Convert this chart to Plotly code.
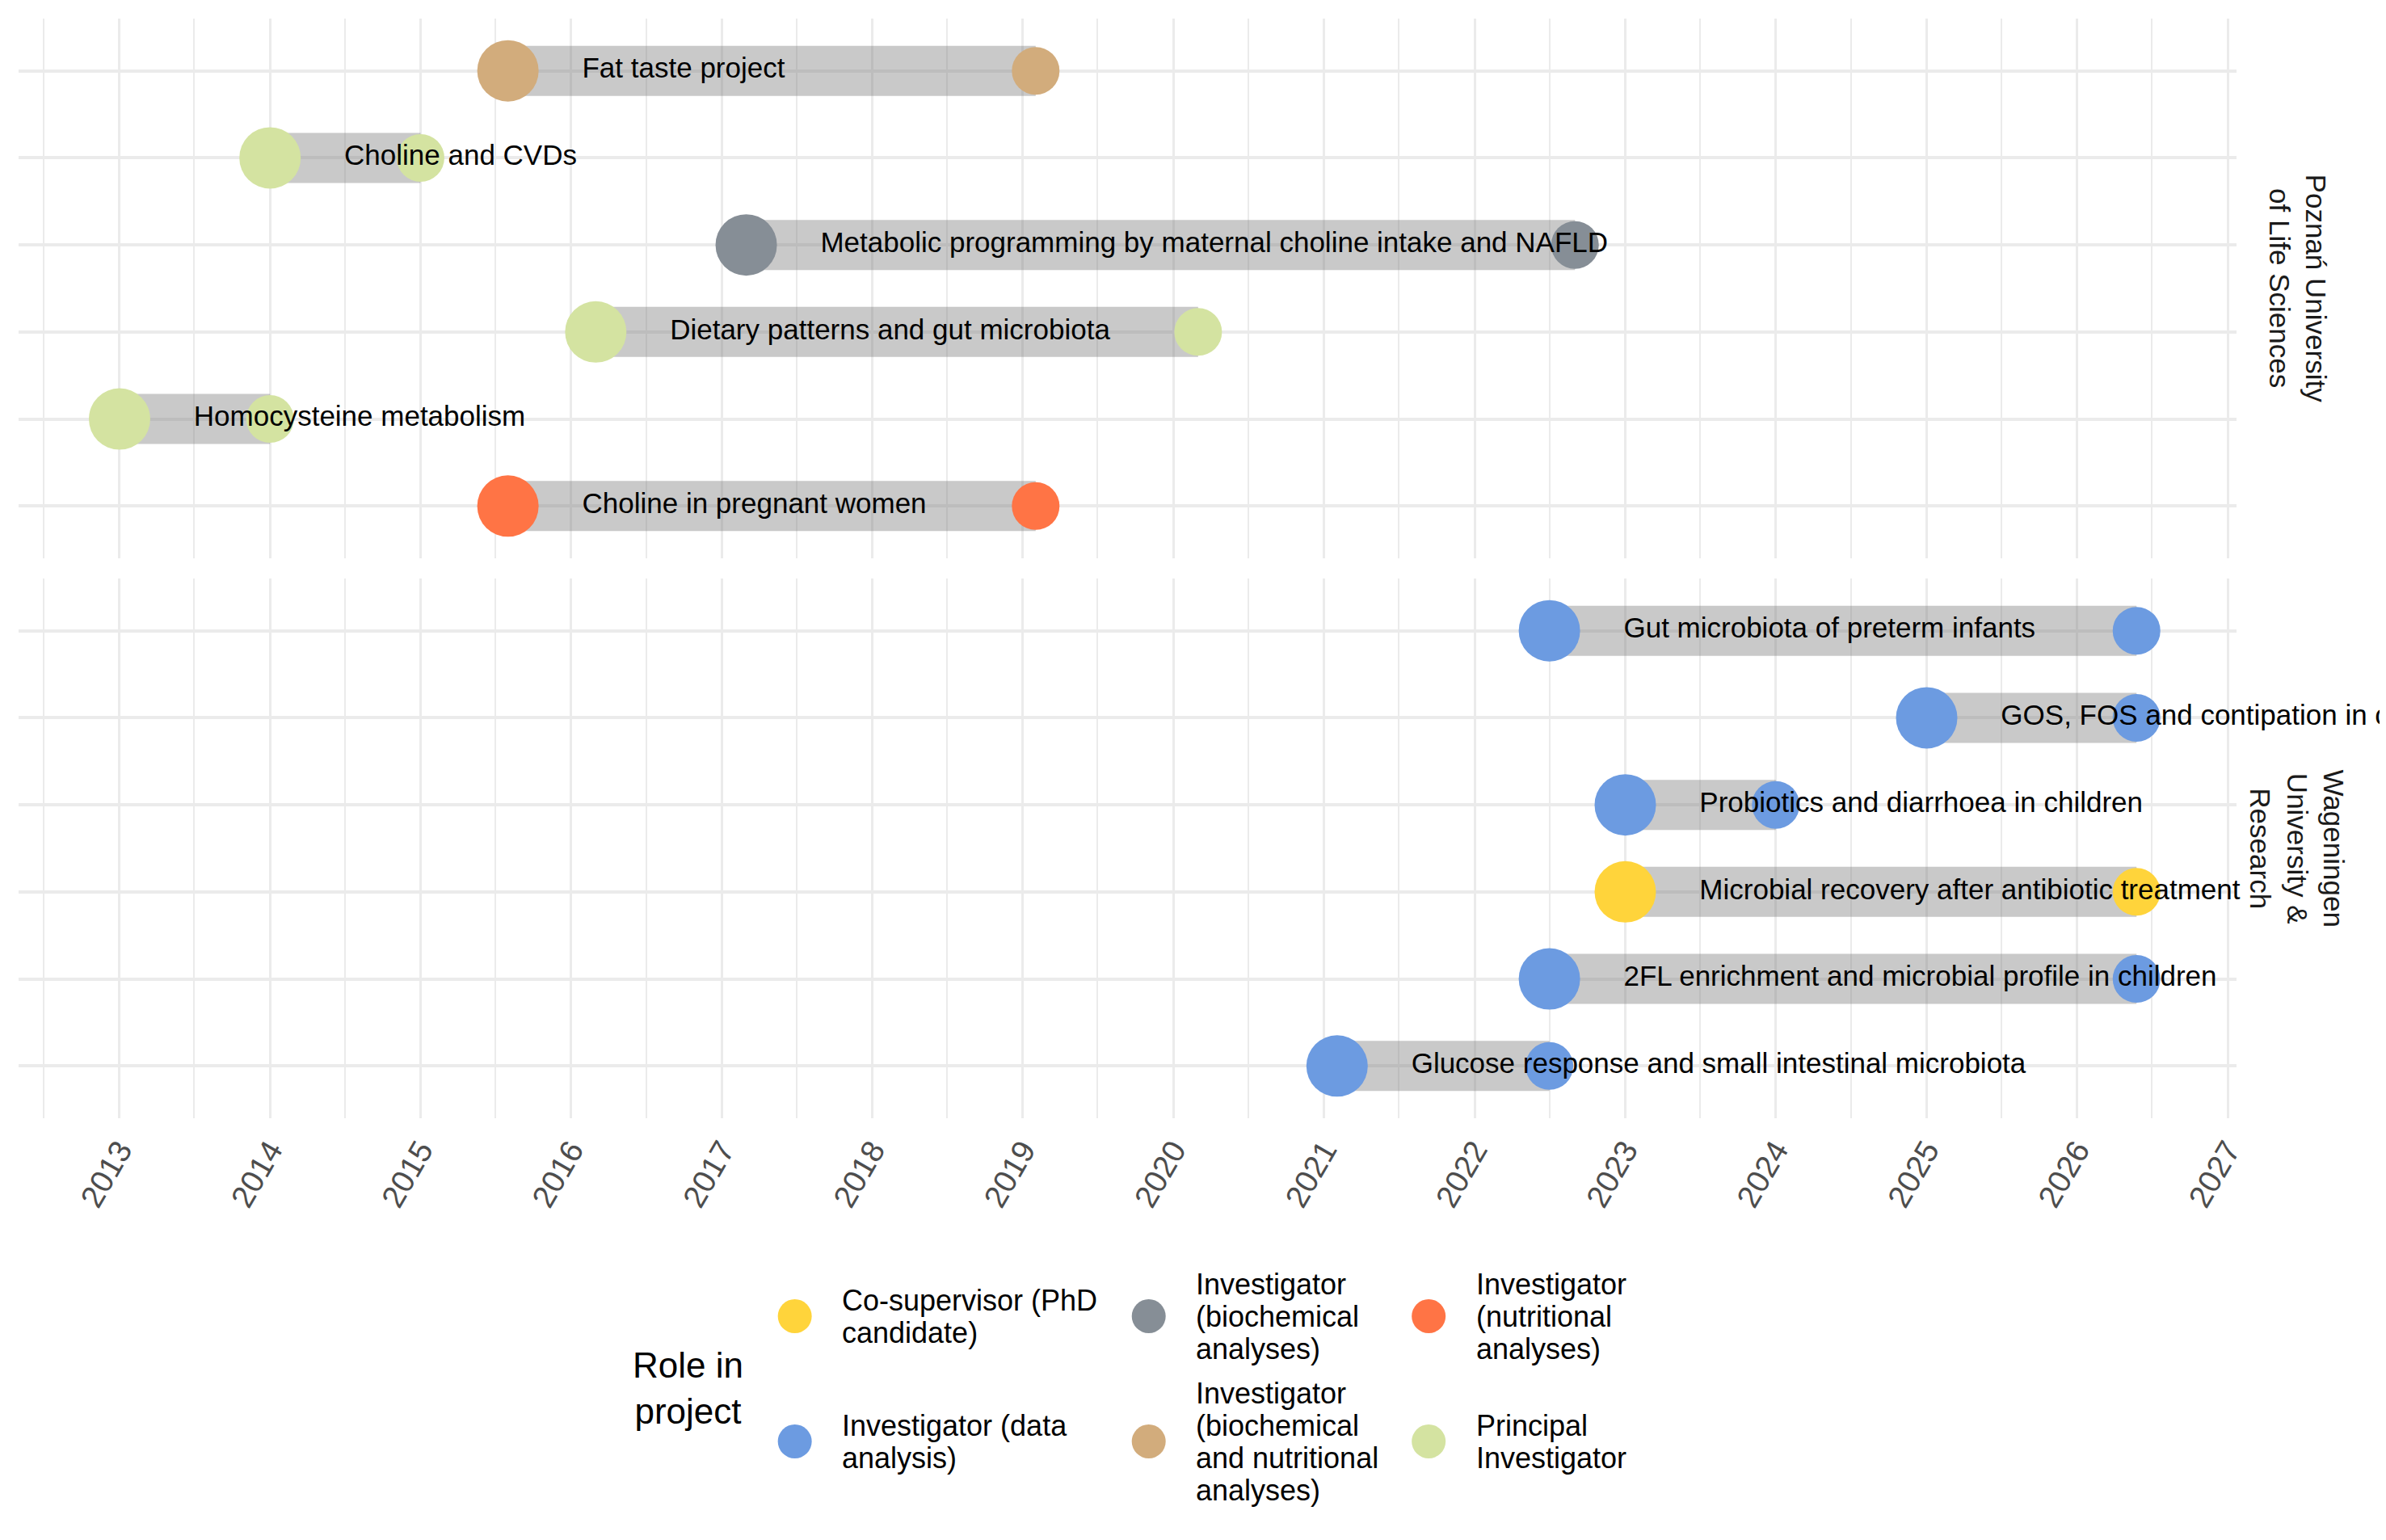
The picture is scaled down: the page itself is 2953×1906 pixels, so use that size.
import pandas as pd
import plotly.graph_objects as go

# the page body keeps its default 8px margin, so the figure is made 16px smaller
# than the window and all positions below are given in window pixels
WIN_W, WIN_H = 2953, 1906
OFF = 8
W, H = WIN_W - 2 * OFF, WIN_H - 2 * OFF
FONT = "Liberation Sans, Arial, sans-serif"

# --- data -------------------------------------------------------------
panels = ["Poznań University<br>of Life Sciences", "Wageningen<br>University &<br>Research"]

projects = [
    "Fat taste project",
    "Choline and CVDs",
    "Metabolic programming by maternal choline intake and NAFLD",
    "Dietary patterns and gut microbiota",
    "Homocysteine metabolism",
    "Choline in pregnant women",
    "Gut microbiota of preterm infants",
    "GOS, FOS and contipation in children",
    "Probiotics and diarrhoea in children",
    "Microbial recovery after antibiotic treatment",
    "2FL enrichment and microbial profile in children",
    "Glucose response and small intestinal microbiota",
]
institution = [panels[0]] * 6 + [panels[1]] * 6

start_dates = ["2015-08-01", "2014-01-01", "2017-03-01", "2016-03-01", "2013-01-01", "2015-08-01",
               "2022-07-01", "2025-01-01", "2023-01-01", "2023-01-01", "2022-07-01", "2021-02-01"]
end_dates = ["2019-02-01", "2015-01-01", "2022-09-01", "2020-03-01", "2014-01-01", "2019-02-01",
             "2026-05-25", "2026-05-25", "2024-01-01", "2026-05-25", "2026-05-25", "2022-07-01"]

roles = [
    "Investigator (biochemical and nutritional analyses)",
    "Principal Investigator",
    "Investigator (biochemical analyses)",
    "Principal Investigator",
    "Principal Investigator",
    "Investigator (nutritional analyses)",
    "Investigator (data analysis)",
    "Investigator (data analysis)",
    "Investigator (data analysis)",
    "Co-supervisor (PhD candidate)",
    "Investigator (data analysis)",
    "Investigator (data analysis)",
]

# legend order (column by column) and wrapped labels
legend_roles = [
    "Co-supervisor (PhD candidate)",
    "Investigator (data analysis)",
    "Investigator (biochemical analyses)",
    "Investigator (biochemical and nutritional analyses)",
    "Investigator (nutritional analyses)",
    "Principal Investigator",
]
legend_labels = [
    "Co-supervisor (PhD<br>candidate)",
    "Investigator (data<br>analysis)",
    "Investigator<br>(biochemical<br>analyses)",
    "Investigator<br>(biochemical<br>and nutritional<br>analyses)",
    "Investigator<br>(nutritional<br>analyses)",
    "Principal<br>Investigator",
]
role_colors = {
    "Co-supervisor (PhD candidate)": "#FFD43B",
    "Investigator (data analysis)": "#6C9BE1",
    "Investigator (biochemical analyses)": "#868E96",
    "Investigator (biochemical and nutritional analyses)": "#D2AC7C",
    "Investigator (nutritional analyses)": "#FF7445",
    "Principal Investigator": "#D4E3A1",
}

df = pd.DataFrame(dict(project=projects, panel=institution,
                       start=pd.to_datetime(start_dates), end=pd.to_datetime(end_dates),
                       role=roles))
df["label_x"] = df["start"] + pd.Timedelta(days=180)

# --- figure -----------------------------------------------------------
fig = go.Figure()

for i, panel in enumerate(panels):
    sub = df[df["panel"] == panel]
    xa = "x" if i == 0 else "x2"
    ya = "y" if i == 0 else "y2"

    # grey bars from start to end
    bx, by = [], []
    for _, r in sub.iterrows():
        bx += [r["start"], r["end"], None]
        by += [r["project"], r["project"], None]
    fig.add_trace(go.Scatter(x=bx, y=by, mode="lines", xaxis=xa, yaxis=ya,
                             line=dict(color="rgba(127,127,127,0.42)", width=62),
                             hoverinfo="skip", showlegend=False))

    cols = [role_colors[r] for r in sub["role"]]
    fig.add_trace(go.Scatter(x=sub["start"], y=sub["project"], mode="markers", xaxis=xa, yaxis=ya,
                             marker=dict(size=76, color=cols, opacity=1, line=dict(width=0)),
                             showlegend=False, cliponaxis=False))
    fig.add_trace(go.Scatter(x=sub["end"], y=sub["project"], mode="markers", xaxis=xa, yaxis=ya,
                             marker=dict(size=59, color=cols, opacity=1, line=dict(width=0)),
                             showlegend=False, cliponaxis=False))
    fig.add_trace(go.Scatter(x=sub["label_x"], y=sub["project"], mode="text", xaxis=xa, yaxis=ya,
                             text=sub["project"], textposition="middle right",
                             textfont=dict(family=FONT, size=35, color="black"),
                             showlegend=False, cliponaxis=False))

# manual legend on an invisible pixel-space axis
col_x = [988, 1428, 1776]
row_y = [1629, 1784]
line_gap = 40
lx, ly = [], []
for k, lab in enumerate(legend_labels):
    c, r = divmod(k, 2)
    lx.append(col_x[c])
    ly.append(row_y[r])
    lines = lab.split("<br>")
    for j, line in enumerate(lines):
        yy = row_y[r] + (j - (len(lines) - 1) / 2) * line_gap
        fig.add_annotation(x=col_x[c] + 57, y=yy, xref="x3", yref="y3", text=line,
                           showarrow=False, xanchor="left", yanchor="middle", align="left",
                           font=dict(family=FONT, size=36, color="#000000"))
fig.add_trace(go.Scatter(x=lx, y=ly, mode="markers", xaxis="x3", yaxis="y3",
                         marker=dict(size=42, color=[role_colors[r] for r in legend_roles]),
                         hoverinfo="skip", showlegend=False, cliponaxis=False))
fig.add_annotation(x=855, y=1718, xref="x3", yref="y3", text="Role in<br>project",
                   showarrow=False, xanchor="center", yanchor="middle", align="center",
                   font=dict(family=FONT, size=44, color="#000000"))

# facet strip labels
dom_top = [1 - (691 - OFF) / H, 1 - (23 - OFF) / H]
dom_bot = [1 - (1384 - OFF) / H, 1 - (716 - OFF) / H]
for dom, panel in zip([dom_top, dom_bot], panels):
    fig.add_annotation(x=(2856 - OFF) / W, y=sum(dom) / 2, xref="paper", yref="paper", text=panel,
                       textangle=90, showarrow=False, xanchor="center", yanchor="middle",
                       align="center", font=dict(family=FONT, size=35, color="#1A1A1A"))

grid = "#EBEBEB"
xcommon = dict(type="date", domain=[(23 - OFF) / W, (2780 - OFF) / W], range=["2012-05-01", "2027-01-22"],
               dtick="M12", tick0="2013-01-01", tickformat="%Y", showgrid=True, gridcolor=grid,
               gridwidth=3, zeroline=False, showline=False, ticks="",
               minor=dict(dtick="M6", tick0="2013-01-01", showgrid=True, gridcolor=grid, gridwidth=2))
ycommon = dict(type="category", showgrid=True, gridcolor=grid, gridwidth=4, zeroline=False,
               showticklabels=False, showline=False, ticks="", range=[5.6, -0.6])

fig.update_layout(
    width=W, height=H,
    margin=dict(l=0, r=0, t=0, b=0),
    paper_bgcolor="white", plot_bgcolor="rgba(0,0,0,0)",
    font=dict(family=FONT),
    showlegend=False,
    xaxis=dict(**xcommon, anchor="y", showticklabels=False),
    xaxis2=dict(**xcommon, anchor="y2", matches="x", showticklabels=True, tickangle=-60,
                ticklabelstandoff=8,
                tickfont=dict(family=FONT, size=39, color="#4D4D4D")),
    yaxis=dict(**ycommon, domain=dom_top, anchor="x",
               categoryorder="array", categoryarray=projects[:6]),
    yaxis2=dict(**ycommon, domain=dom_bot, anchor="x2",
                categoryorder="array", categoryarray=projects[6:]),
    xaxis3=dict(domain=[0, 1], range=[OFF, W + OFF], visible=False, anchor="y3", fixedrange=True),
    yaxis3=dict(domain=[0, 1], range=[H + OFF, OFF], visible=False, anchor="x3", fixedrange=True),
)

fig.write_html("out.html")
